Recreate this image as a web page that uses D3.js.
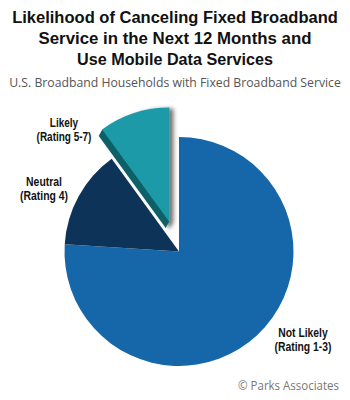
<!DOCTYPE html>
<html>
<head>
<meta charset="utf-8">
<script src="https://cdn.jsdelivr.net/npm/d3@7"></script>
<style>
  body { margin: 0; background: #fff; }
  text { font-family: "Open Sans", "Liberation Sans", sans-serif; }
  .narrow { font-family: "Liberation Sans Narrow", "Liberation Sans", sans-serif; }
  .title { font-family: "Liberation Sans", "DejaVu Sans", sans-serif; }
</style>
</head>
<body>
<div id="chart"></div>
<script>
// data
var categories = ["Not Likely", "Neutral", "Likely"];
var ratings = ["(Rating 1-3)", "(Rating 4)", "(Rating 5-7)"];
var shares = [0.76, 0.14, 0.10];
var colours = ["#1667aa", "#0d3458", "#1b9aa8"];
var titleLines = ["Likelihood of Canceling Fixed Broadband", "Service in the Next 12 Months and", "Use Mobile Data Services"];
var subtitle = "U.S. Broadband Households with Fixed Broadband Service";
var source = "\u00a9 Parks Associates";

var width = 350;
var height = 400;

var cx = 179, cy = 251.5;
var radius = 114.5;
var explode = 31;

var svg = d3.select("#chart")
    .append("svg")
    .attr("width", width)
    .attr("height", height);

var defs = svg.append("defs");
var filter = defs.append("filter")
    .attr("id", "shadow")
    .attr("x", "-20%").attr("y", "-20%")
    .attr("width", "150%").attr("height", "150%");
filter.append("feDropShadow")
    .attr("dx", 4)
    .attr("dy", 1)
    .attr("stdDeviation", 2.2)
    .attr("flood-color", "#000")
    .attr("flood-opacity", 0.55);

// put a text at x,y and stretch/squeeze it sideways to a width
// (the original uses a condensed face that is not installed here)
function addText(cls, x, y, str, size, weight, fill, anchor, w) {
    var t = svg.append("text")
        .attr("class", cls)
        .attr("x", 0)
        .attr("y", 0)
        .attr("text-anchor", anchor)
        .style("font-size", size + "px")
        .style("font-weight", weight)
        .attr("fill", fill)
        .text(str);
    var len = t.node().getComputedTextLength();
    var s = w / len;
    t.attr("transform", "translate(" + x + "," + y + ") scale(" + s.toFixed(4) + ",1)");
    return t;
}

// title
var titleW = [326, 273, 196];
titleLines.forEach(function(t, j) {
    addText("title", 175, 23 + j * 21, t, 17, "bold", "#111", "middle", titleW[j]);
});

addText("", 175, 87, subtitle, 12.5, "normal", "#555", "middle", 332);

var pieData = shares.map(function(v, j) {
    return { key: categories[j], value: v, colour: colours[j] };
});

var pie = d3.pie()
    .sort(null)
    .value(function(d) { return d.value; });

var arc = d3.arc()
    .innerRadius(0)
    .outerRadius(radius);

var midAngle = function(d) {
    return d.startAngle + (d.endAngle - d.startAngle) / 2;
};

var g = svg.append("g")
    .attr("transform", "translate(" + cx + "," + cy + ")");

var arcs = pie(pieData);

arcs.forEach(function(d, j) {
    if (j < 2) {
        g.append("path")
            .attr("d", arc(d))
            .attr("fill", d.data.colour);
    }
});

// pulled out slice with a dark side and a shadow
var out = arcs[2];
var ox = explode * Math.sin(midAngle(out));
var oy = -explode * Math.cos(midAngle(out));
var sliceG = g.append("g")
    .attr("transform", "translate(" + ox + "," + oy + ")")
    .attr("filter", "url(#shadow)");

d3.range(7, 0, -1).forEach(function(k) {
    sliceG.append("path")
        .attr("d", arc(out))
        .attr("transform", "translate(" + (-k * 0.5) + "," + (k * 0.9) + ")")
        .attr("fill", "#0c5f67");
});
sliceG.append("path")
    .attr("d", arc(out))
    .attr("fill", out.data.colour);

// labels: two lines in one text, squeezed to the width of the rating line
var labelPos = [[303, 337], [44, 186], [64, 127]];
var labelW = [57, 48, 55];
arcs.forEach(function(d, j) {
    var t = svg.append("text")
        .attr("class", "narrow")
        .attr("text-anchor", "middle")
        .style("font-size", "12.3px")
        .style("font-weight", "bold")
        .attr("fill", "#111");
    t.append("tspan")
        .attr("x", 0)
        .attr("y", 0)
        .text(d.data.key);
    var second = t.append("tspan")
        .attr("x", 0)
        .attr("y", 14)
        .text(ratings[j]);
    var s = labelW[j] / second.node().getComputedTextLength();
    t.attr("transform", "translate(" + labelPos[j][0] + "," + labelPos[j][1] + ") scale(" + s.toFixed(4) + ",1)");
});

addText("", 339, 390, source, 12.5, "normal", "#777", "end", 101);
</script>
</body>
</html>
